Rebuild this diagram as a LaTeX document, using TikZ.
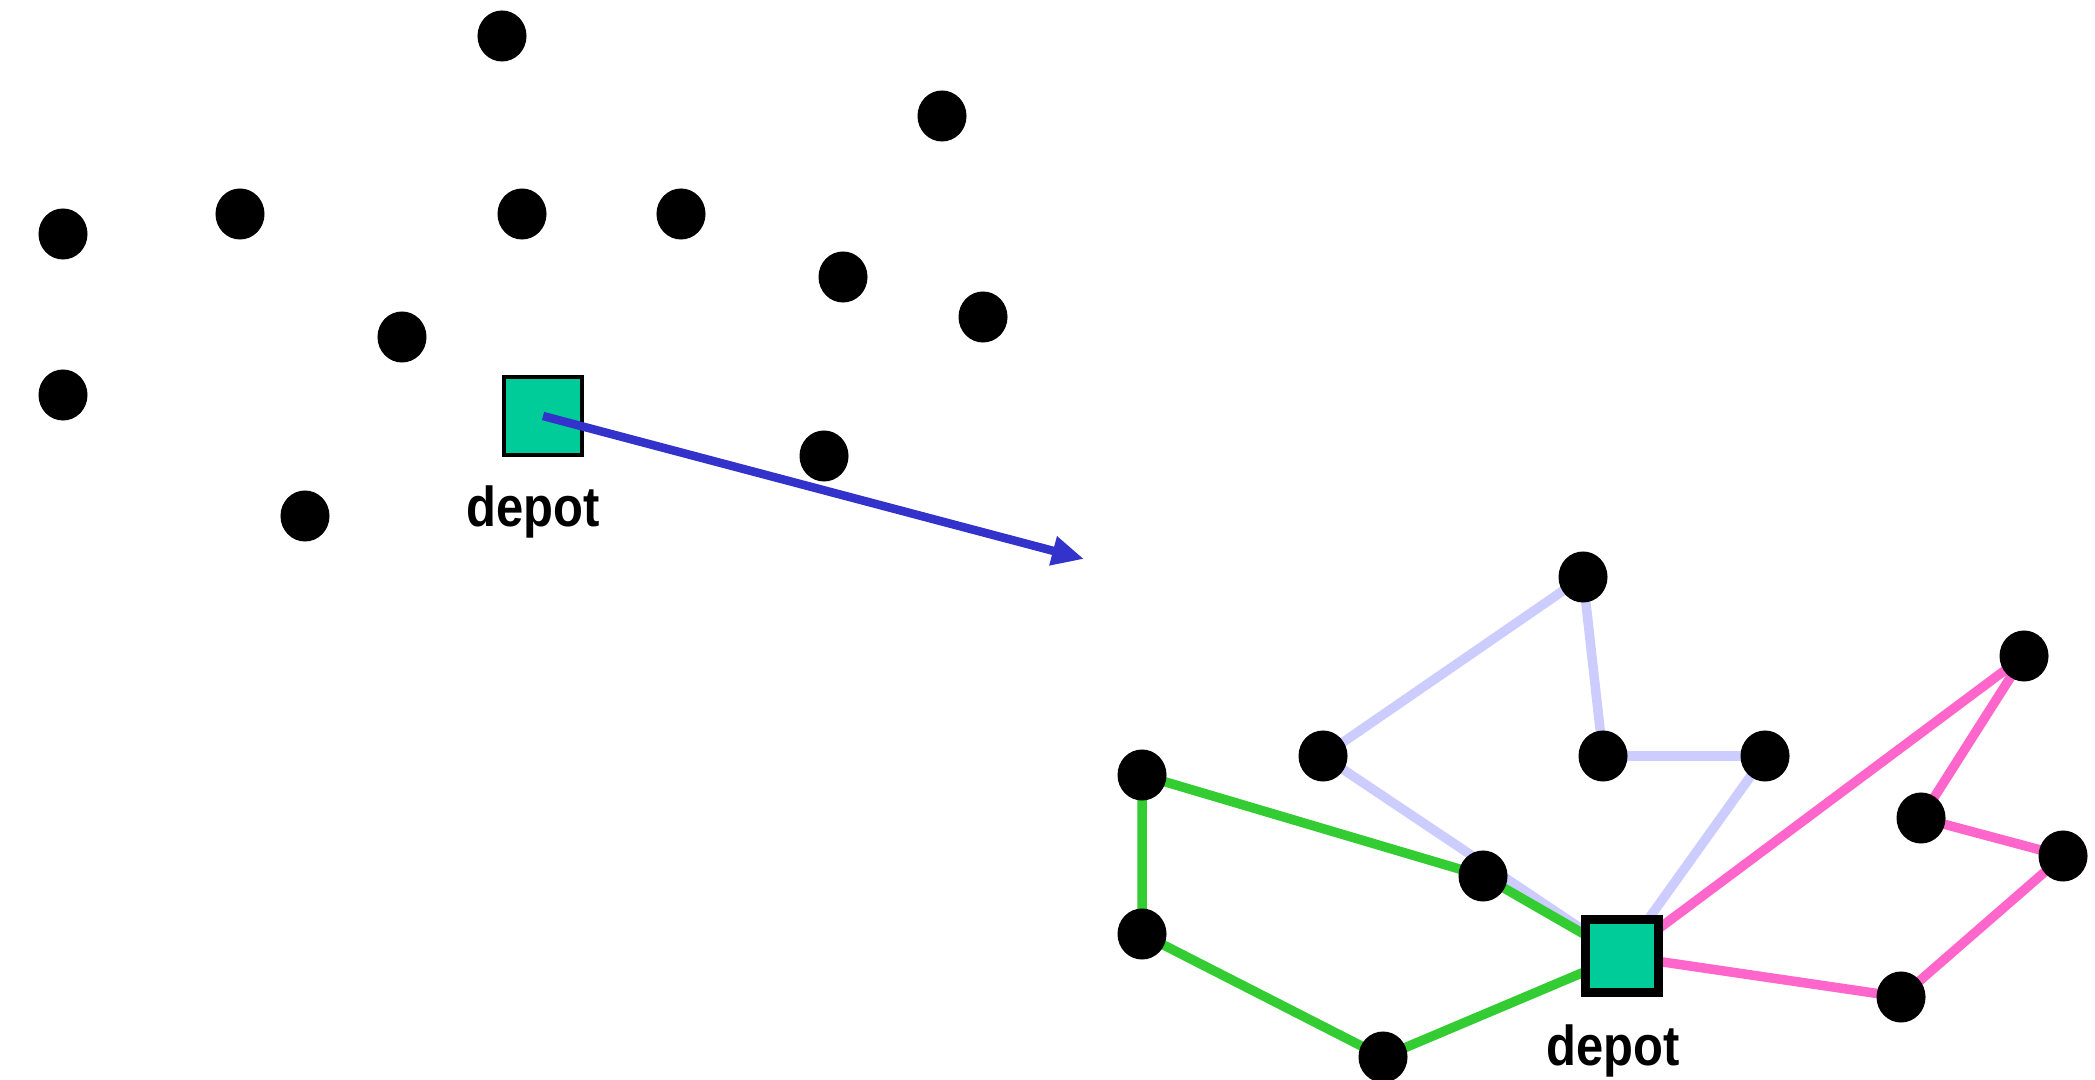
\documentclass[tikz,border=0pt]{standalone}
\usepackage{fontspec}
\newfontfamily\labfont{Liberation Sans}
\usetikzlibrary{arrows.meta,shapes.geometric}
\definecolor{depotgreen}{RGB}{0,204,153}
\definecolor{routegreen}{RGB}{51,204,51}
\definecolor{routelav}{RGB}{204,204,255}
\definecolor{routepink}{RGB}{255,102,204}
\definecolor{arrowblue}{RGB}{51,51,204}
\tikzset{
  dot/.style={ellipse,fill=black,inner sep=0pt,minimum width=0.49cm,minimum height=0.51cm},
  depotsmall/.style={rectangle,fill=depotgreen,draw=black,line width=0.04cm,inner sep=0pt,minimum size=0.78cm},
  depotbig/.style={rectangle,fill=depotgreen,draw=black,line width=0.09cm,inner sep=0pt,minimum size=0.73cm},
  deplabel/.style={inner sep=0pt,font=\labfont\bfseries\fontsize{16pt}{18pt}\selectfont},
  route/.style={line width=0.095cm},
  bigarrow/.style={draw=arrowblue,line width=0.085cm,-{Triangle[length=0.32cm,width=0.28cm]}}
}
\begin{document}
\begin{tikzpicture}[x=0.01cm,y=-0.01cm]
\useasboundingbox (0,0) rectangle (2095,1080);
% left: unordered customers
\node[dot] (a1) at (502,36) {};
\node[dot] (a2) at (942,116) {};
\node[dot] (a3) at (63,234) {};
\node[dot] (a4) at (240,214) {};
\node[dot] (a5) at (522,214) {};
\node[dot] (a6) at (681,214) {};
\node[dot] (a7) at (843,277) {};
\node[dot] (a8) at (983,317) {};
\node[dot] (a9) at (402,337) {};
\node[dot] (a10) at (63,395) {};
\node[dot] (a11) at (824,456) {};
\node[dot] (a12) at (305,516) {};
\node[depotsmall] (ld) at (543,416) {};
\node[deplabel] (ldl) at (533,512) {\scalebox{0.87}[1]{depot}};
\coordinate (tip) at (1084,559);
\draw[bigarrow] (ld.center) -- (tip);
% right: routes
\coordinate (b1) at (1583,577);
\coordinate (b2) at (2024,656);
\coordinate (b3) at (1323,756);
\coordinate (b4) at (1603,756);
\coordinate (b5) at (1765,756);
\coordinate (b6) at (1142,775);
\coordinate (b7) at (1921,818);
\coordinate (b8) at (1483,876);
\coordinate (b9) at (2063,856);
\coordinate (b10) at (1142,934);
\coordinate (b11) at (1901,997);
\coordinate (b12) at (1383,1057);
\coordinate (rdc) at (1622,956);
\draw[route,routelav] (rdc) -- (b3) -- (b1) -- (b4) -- (b5) -- (rdc);
\draw[route,routegreen] (rdc) -- (b8) -- (b6) -- (b10) -- (b12) -- (rdc);
\draw[route,routepink] (rdc) -- (b2) -- (b7) -- (b9) -- (b11) -- (rdc);
\foreach \n in {b1,b2,b3,b4,b5,b6,b7,b8,b9,b10,b11,b12}
  \node[dot] (n\n) at (\n) {};
\node[depotbig] (rd) at (rdc) {};
\node[deplabel] (rdl) at (1613,1051) {\scalebox{0.87}[1]{depot}};
\end{tikzpicture}
\end{document}
